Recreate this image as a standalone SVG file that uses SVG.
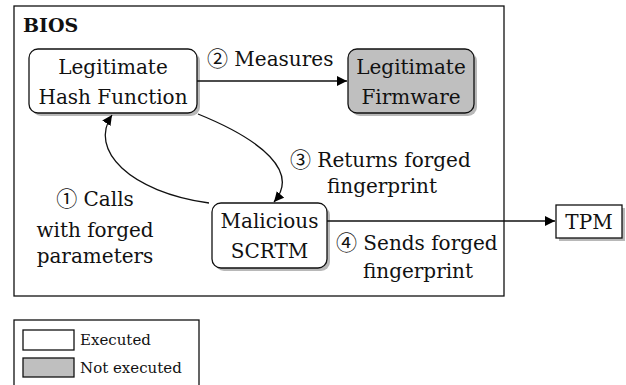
<svg xmlns="http://www.w3.org/2000/svg" width="626" height="385" viewBox="0 0 626 385" font-family="'DejaVu Serif', serif">
<defs>
<marker id="ah" viewBox="0 0 10 10" refX="10" refY="5" markerWidth="10" markerHeight="10" markerUnits="userSpaceOnUse" orient="auto">
<path d="M0,0 L10,5 L0,10 Z" fill="#000"/>
</marker>
<style>
.t{font-family:"DejaVu Serif",serif;font-size:20px;text-anchor:middle;fill:#111;}
.l{font-family:"DejaVu Serif",serif;font-size:20px;fill:#111;}
.lg{font-family:"DejaVu Serif",serif;font-size:15px;fill:#111;}
.c{font-family:"Noto Sans CJK JP","Noto Sans CJK SC",sans-serif;font-size:21px;font-weight:400;}
.box{stroke:#111;stroke-width:1.3;}
.sh{fill:#b8b8b8;stroke:none;}
.edge{fill:none;stroke:#111;stroke-width:1.3;}
</style>
</defs>
<rect x="0" y="0" width="626" height="385" fill="#fff"/>
<g id="bios">
<rect x="14" y="6" width="490" height="290" fill="#fff" class="box"/>
<text x="23" y="32" font-family="DejaVu Serif, serif" font-size="19" font-weight="bold" fill="#111">BIOS</text>
</g>
<g id="hash">
<rect x="32" y="52" width="168" height="64" rx="9" class="sh"/>
<rect x="29" y="49" width="168" height="64" rx="9" fill="#fff" class="box"/>
<text class="t" x="113" y="74">Legitimate</text>
<text class="t" x="113" y="104">Hash Function</text>
</g>
<g id="firmware">
<rect x="351" y="52" width="126" height="64" rx="9" class="sh"/>
<rect x="348" y="49" width="126" height="64" rx="9" fill="#bfbfbf" class="box"/>
<text class="t" x="411" y="74">Legitimate</text>
<text class="t" x="411" y="104">Firmware</text>
</g>
<g id="scrtm">
<rect x="215" y="206" width="115" height="65" rx="9" class="sh"/>
<rect x="212" y="203" width="115" height="65" rx="9" fill="#fff" class="box"/>
<text class="t" x="269.5" y="228">Malicious</text>
<text class="t" x="269.5" y="258">SCRTM</text>
</g>
<g id="tpm">
<rect x="559" y="208" width="66" height="33" class="sh"/>
<rect x="556" y="205" width="66" height="33" fill="#fff" class="box"/>
<text class="t" x="589" y="229">TPM</text>
</g>
<g id="connectors">
<path class="edge" d="M197,81 L347,81" marker-end="url(#ah)"/>
<path class="edge" d="M209,203 C130,192 88,150 112,115" marker-end="url(#ah)"/>
<path class="edge" d="M198,114 C262,140 300,172 274,202" marker-end="url(#ah)"/>
<path class="edge" d="M327,221 L555,221" marker-end="url(#ah)"/>
</g>
<g id="labels">
<text class="l" x="207" y="66"><tspan class="c">②</tspan> Measures</text>
<text class="l" x="290" y="167"><tspan class="c">③</tspan> Returns forged</text>
<text class="t" x="382" y="193">fingerprint</text>
<text class="t" x="95" y="206"><tspan class="c">①</tspan> Calls</text>
<text class="t" x="95" y="237">with forged</text>
<text class="t" x="95" y="263">parameters</text>
<text class="l" x="336" y="250"><tspan class="c">④</tspan> Sends forged</text>
<text class="t" x="418" y="278">fingerprint</text>
</g>
<g id="legend">
<rect x="14" y="320" width="185" height="70" fill="#fff" class="box"/>
<rect x="23" y="330" width="51" height="20" fill="#fff" class="box"/>
<text class="lg" x="80" y="345">Executed</text>
<rect x="23" y="358" width="51" height="19" fill="#bfbfbf" class="box"/>
<text class="lg" x="80" y="373">Not executed</text>
</g>
</svg>
